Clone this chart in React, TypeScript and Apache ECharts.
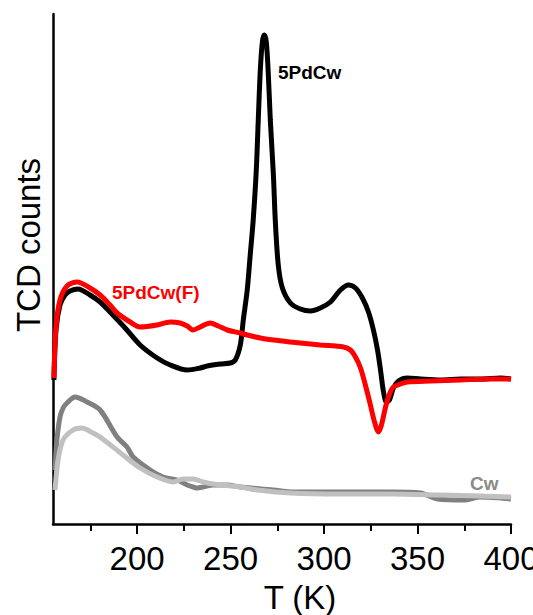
import React, { useEffect, useRef } from "react";
import * as echarts from "echarts";

// Temperature (K) and TCD signal (a.u.)
const blackT = [155.5, 156.6, 158.75, 161.4, 164.1, 168.4, 174.8, 180.2, 185.5, 193.6, 201.6, 210.7, 217.7, 226.8, 233.75, 237.5, 244.5, 249.8, 252.5, 255.2, 256.8, 258.9, 260.5, 262.1, 263.75, 264.8, 265.9, 267.0, 268.0, 269.1, 270.2, 271.25, 272.9, 273.9, 275.5, 277.7, 282.0, 287.3, 292.7, 298.0, 303.4, 308.75, 313.0, 316.8, 320.5, 323.75, 326.4, 328.6, 330.2, 331.8, 333.4, 335.0, 337.1, 339.8, 344.6, 351.6, 362.3, 373.0, 383.75, 394.5, 400];
const blackY = [144, 194, 219, 229, 233, 235, 229, 222, 212, 196, 179, 166, 159, 154, 156, 158, 160, 161, 164, 179, 204, 234, 269, 304, 354, 404, 454, 482, 489, 482, 449, 404, 349, 304, 259, 236, 221, 215, 213, 216, 222, 234, 239, 236, 226, 212, 194, 174, 154, 132, 122, 124, 136, 143, 146, 145, 144, 145, 145, 146, 145];

const redT = [155.5, 156.6, 158.75, 162.5, 167.9, 174.8, 180.2, 185.5, 189.3, 196.25, 201.6, 210.7, 217.7, 223.0, 226.8, 230.0, 233.75, 239.1, 243.4, 248.2, 255.2, 258.9, 265.9, 272.9, 282.0, 287.3, 298.0, 310.4, 314.1, 316.8, 319.5, 322.1, 324.8, 327.0, 329.1, 330.7, 332.9, 335.0, 337.1, 340.9, 344.6, 357.0, 373.0, 389.1, 400];
const redY = [146, 197, 224, 238, 242, 236, 229, 219, 211, 202, 197, 199, 202, 201, 198, 194, 197, 201, 198, 194, 191, 189, 186, 184, 182, 181, 179, 177, 174, 167, 156, 139, 119, 102, 92, 99, 117, 130, 137, 140, 142, 143, 144, 145, 145];

const darkT = [156.1, 157.1, 158.75, 160.4, 162.5, 166.8, 173.2, 180.2, 189.3, 194.6, 197.9, 207.0, 213.9, 221.4, 226.8, 230.0, 232.1, 235.4, 240.7, 248.2, 255.2, 272.9, 282.0, 308.75, 335.5, 351.6, 360.7, 374.6, 383.75, 394.5, 400];
const darkY = [54, 84, 107, 116, 121, 127, 122, 114, 87, 77, 67, 54, 47, 44, 39, 37, 36, 37, 39, 39, 37, 34, 32, 32, 32, 31, 25, 24, 27, 26, 25];

const lightT = [156.1, 157.7, 160.4, 165.7, 170.5, 176.4, 180.2, 192.5, 201.6, 210.7, 219.3, 224.6, 230.0, 235.4, 240.7, 255.2, 264.3, 282.0, 308.75, 335.5, 362.3, 383.75, 400];
const lightY = [34, 64, 84, 94, 96, 91, 87, 69, 56, 47, 42, 45, 45, 42, 40, 37, 34, 31, 30, 30, 29, 28, 27];

const majorTicks = [200, 250, 300, 350, 400];
const minorTicks = [175, 225, 275, 325, 375];

const FONT = "Liberation Sans, Arial, sans-serif";

function pairs(xs: number[], ys: number[]) {
  return xs.map((x, i) => [x, ys[i]]);
}

export default function App() {
  const ref = useRef<HTMLDivElement>(null);
  useEffect(() => {
    if (!ref.current) return;
    const chart = echarts.init(ref.current, null, { renderer: "svg" });
    const lineSeries = (name: string, xs: number[], ys: number[], color: string) => ({
      name,
      type: "line",
      data: pairs(xs, ys),
      showSymbol: false,
      smooth: 0.3,
      lineStyle: { color, width: 5 },
      z: 2,
    });
    chart.setOption({
      animation: false,
      backgroundColor: "#fff",
      grid: { left: 53, right: 22, top: 14, bottom: 91, containLabel: false, outerBoundsMode: "none" },
      xAxis: [
        {
          type: "value",
          position: "bottom",
          min: 155,
          max: 400,
          axisLine: { show: true, lineStyle: { color: "#000", width: 2.5 } },
          axisTick: { show: true, customValues: majorTicks, length: 10, lineStyle: { color: "#000", width: 2 } },
          axisLabel: { customValues: majorTicks, fontSize: 33, color: "#000", fontFamily: FONT, margin: 18, hideOverlap: false },
          splitLine: { show: false },
        },
        {
          type: "value",
          position: "bottom",
          min: 155,
          max: 400,
          axisLine: { show: false },
          axisTick: { show: true, customValues: minorTicks, length: 7, lineStyle: { color: "#000", width: 2 } },
          axisLabel: { show: false },
          splitLine: { show: false },
        },
      ],
      yAxis: {
        type: "value",
        min: 0,
        max: 510,
        axisLine: { show: true, lineStyle: { color: "#000", width: 2.5 } },
        axisTick: { show: false },
        axisLabel: { show: false },
        splitLine: { show: false },
      },
      series: [
        lineSeries("dark", darkT, darkY, "#808080"),
        lineSeries("Cw", lightT, lightY, "#c0c0c0"),
        lineSeries("5PdCw", blackT, blackY, "#000000"),
        lineSeries("5PdCw(F)", redT, redY, "#ff0000"),
      ],
      graphic: [
        { type: "text", x: 278, y: 72, style: { text: "5PdCw", fontSize: 19, fontWeight: "bold", fill: "#000", fontFamily: FONT, verticalAlign: "middle", align: "left" } },
        { type: "text", x: 112, y: 292, style: { text: "5PdCw(F)", fontSize: 19, fontWeight: "bold", fill: "#ff0000", fontFamily: FONT, verticalAlign: "middle", align: "left" } },
        { type: "text", x: 470, y: 483, style: { text: "Cw", fontSize: 19, fontWeight: "bold", fill: "#8a8a8a", fontFamily: FONT, verticalAlign: "middle", align: "left" } },
        { type: "text", x: 300, y: 597, style: { text: "T (K)", fontSize: 33, fill: "#000", fontFamily: FONT, verticalAlign: "middle", align: "center" } },
        { type: "text", x: 28, y: 245, rotation: Math.PI / 2, style: { text: "TCD counts", fontSize: 33, fill: "#000", fontFamily: FONT, verticalAlign: "middle", align: "center" } },
      ],
    });
    return () => chart.dispose();
  }, []);
  return <div ref={ref} style={{ position: "fixed", left: 0, top: 0, width: 533, height: 615 }} />;
}
